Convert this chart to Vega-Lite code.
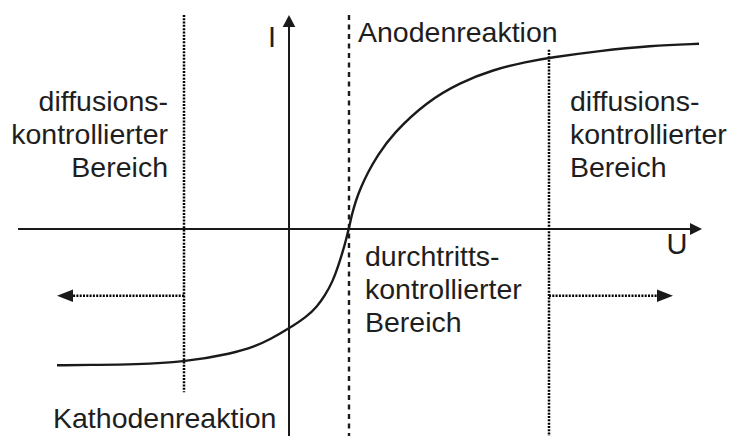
{
  "$schema": "https://vega.github.io/schema/vega-lite/v6.json",
  "width": 732,
  "height": 438,
  "autosize": {"type": "fit", "contains": "padding"},
  "padding": 0,
  "background": "white",
  "config": {"view": {"stroke": null}},
  "encoding": {
    "x": {"field": "u", "type": "quantitative", "scale": {"domain": [-289, 443], "nice": false, "zero": false}, "axis": null},
    "y": {"field": "i", "type": "quantitative", "scale": {"domain": [-208, 230], "nice": false, "zero": false}, "axis": null}
  },
  "layer": [
    {
      "data": {"values": [
        {"name": "U-Achse", "u": -271, "i": 0, "u2": 403, "i2": 0},
        {"name": "I-Achse", "u": 0, "i": -208, "u2": 0, "i2": 204}
      ]},
      "mark": {"type": "rule", "color": "#1a1a1a", "strokeWidth": 2},
      "encoding": {"x2": {"field": "u2"}, "y2": {"field": "i2"}}
    },
    {
      "data": {"values": [
        {"name": "links", "u": -105, "i": 215, "u2": -105, "i2": -164},
        {"name": "rechts", "u": 260, "i": 180, "u2": 260, "i2": -208},
        {"name": "Pfeil links", "u": -105, "i": -67, "u2": -217, "i2": -67},
        {"name": "Pfeil rechts", "u": 260, "i": -67, "u2": 368, "i2": -67}
      ]},
      "mark": {"type": "rule", "color": "#000000", "strokeWidth": 2.5, "strokeDash": [2, 1.3]},
      "encoding": {"x2": {"field": "u2"}, "y2": {"field": "i2"}}
    },
    {
      "data": {"values": [
        {"name": "Gleichgewicht", "u": 60, "i": 215, "u2": 60, "i2": -208}
      ]},
      "mark": {"type": "rule", "color": "#1a1a1a", "strokeWidth": 2.4, "strokeDash": [5, 4.5]},
      "encoding": {"x2": {"field": "u2"}, "y2": {"field": "i2"}}
    },
    {
      "data": {"values": [
        {"u": -232, "i": -137},
        {"u": -189, "i": -136.5},
        {"u": -156, "i": -136},
        {"u": -106, "i": -134},
        {"u": -56, "i": -125},
        {"u": -34, "i": -118},
        {"u": -19, "i": -111},
        {"u": 0, "i": -100},
        {"u": 18, "i": -88},
        {"u": 28, "i": -78},
        {"u": 36, "i": -67},
        {"u": 44, "i": -52},
        {"u": 49, "i": -38},
        {"u": 54, "i": -22},
        {"u": 57, "i": -11},
        {"u": 60, "i": 1},
        {"u": 63, "i": 15},
        {"u": 67, "i": 29},
        {"u": 72, "i": 42},
        {"u": 79, "i": 57},
        {"u": 88, "i": 73},
        {"u": 104, "i": 96},
        {"u": 138, "i": 128},
        {"u": 171, "i": 147},
        {"u": 204, "i": 160},
        {"u": 238, "i": 168},
        {"u": 260, "i": 172},
        {"u": 311, "i": 179},
        {"u": 361, "i": 184},
        {"u": 410, "i": 186}
      ]},
      "mark": {"type": "line", "color": "#1a1a1a", "strokeWidth": 2.4, "interpolate": "basis"},
      "encoding": {}
    },
    {
      "data": {"values": [{"u": 407, "i": 0}]},
      "mark": {"type": "point", "filled": true, "opacity": 1, "color": "#1a1a1a", "strokeWidth": 0, "size": 144, "shape": "M1,0L-1,-1L-1,1Z"},
      "encoding": {}
    },
    {
      "data": {"values": [{"u": 0, "i": 209}]},
      "mark": {"type": "point", "filled": true, "opacity": 1, "color": "#1a1a1a", "strokeWidth": 0, "size": 144, "shape": "M0,-1L1.05,1L-1.05,1Z"},
      "encoding": {}
    },
    {
      "data": {"values": [{"u": 376, "i": -67}]},
      "mark": {"type": "point", "filled": true, "opacity": 1, "color": "#1a1a1a", "strokeWidth": 0, "size": 256, "shape": "M1,0L-1,-0.78L-1,0.78Z"},
      "encoding": {}
    },
    {
      "data": {"values": [{"u": -224, "i": -67}]},
      "mark": {"type": "point", "filled": true, "opacity": 1, "color": "#1a1a1a", "strokeWidth": 0, "size": 256, "shape": "M-1,0L1,-0.78L1,0.78Z"},
      "encoding": {}
    },
    {
      "data": {"values": [
        {"label": ["diffusions-", "kontrollierter", "Bereich"], "u": -121, "i": 118}
      ]},
      "mark": {"type": "text", "align": "right", "baseline": "alphabetic", "font": "Liberation Sans", "fontSize": 28.5, "lineHeight": 33, "color": "#1e1e1e"},
      "encoding": {"text": {"field": "label"}}
    },
    {
      "data": {"values": [
        {"label": ["diffusions-", "kontrollierter", "Bereich"], "u": 281, "i": 118},
        {"label": ["durchtritts-", "kontrollierter", "Bereich"], "u": 76, "i": -37},
        {"label": ["Anodenreaktion"], "u": 69, "i": 188},
        {"label": ["Kathodenreaktion"], "u": -236, "i": -200}
      ]},
      "mark": {"type": "text", "align": "left", "baseline": "alphabetic", "font": "Liberation Sans", "fontSize": 28.5, "lineHeight": 33, "color": "#1e1e1e"},
      "encoding": {"text": {"field": "label"}}
    },
    {
      "data": {"values": [
        {"label": "I", "u": -17, "i": 183},
        {"label": "U", "u": 388, "i": -25}
      ]},
      "mark": {"type": "text", "align": "center", "baseline": "alphabetic", "font": "Liberation Sans", "fontSize": 29, "color": "#1e1e1e"},
      "encoding": {"text": {"field": "label"}}
    }
  ]
}
